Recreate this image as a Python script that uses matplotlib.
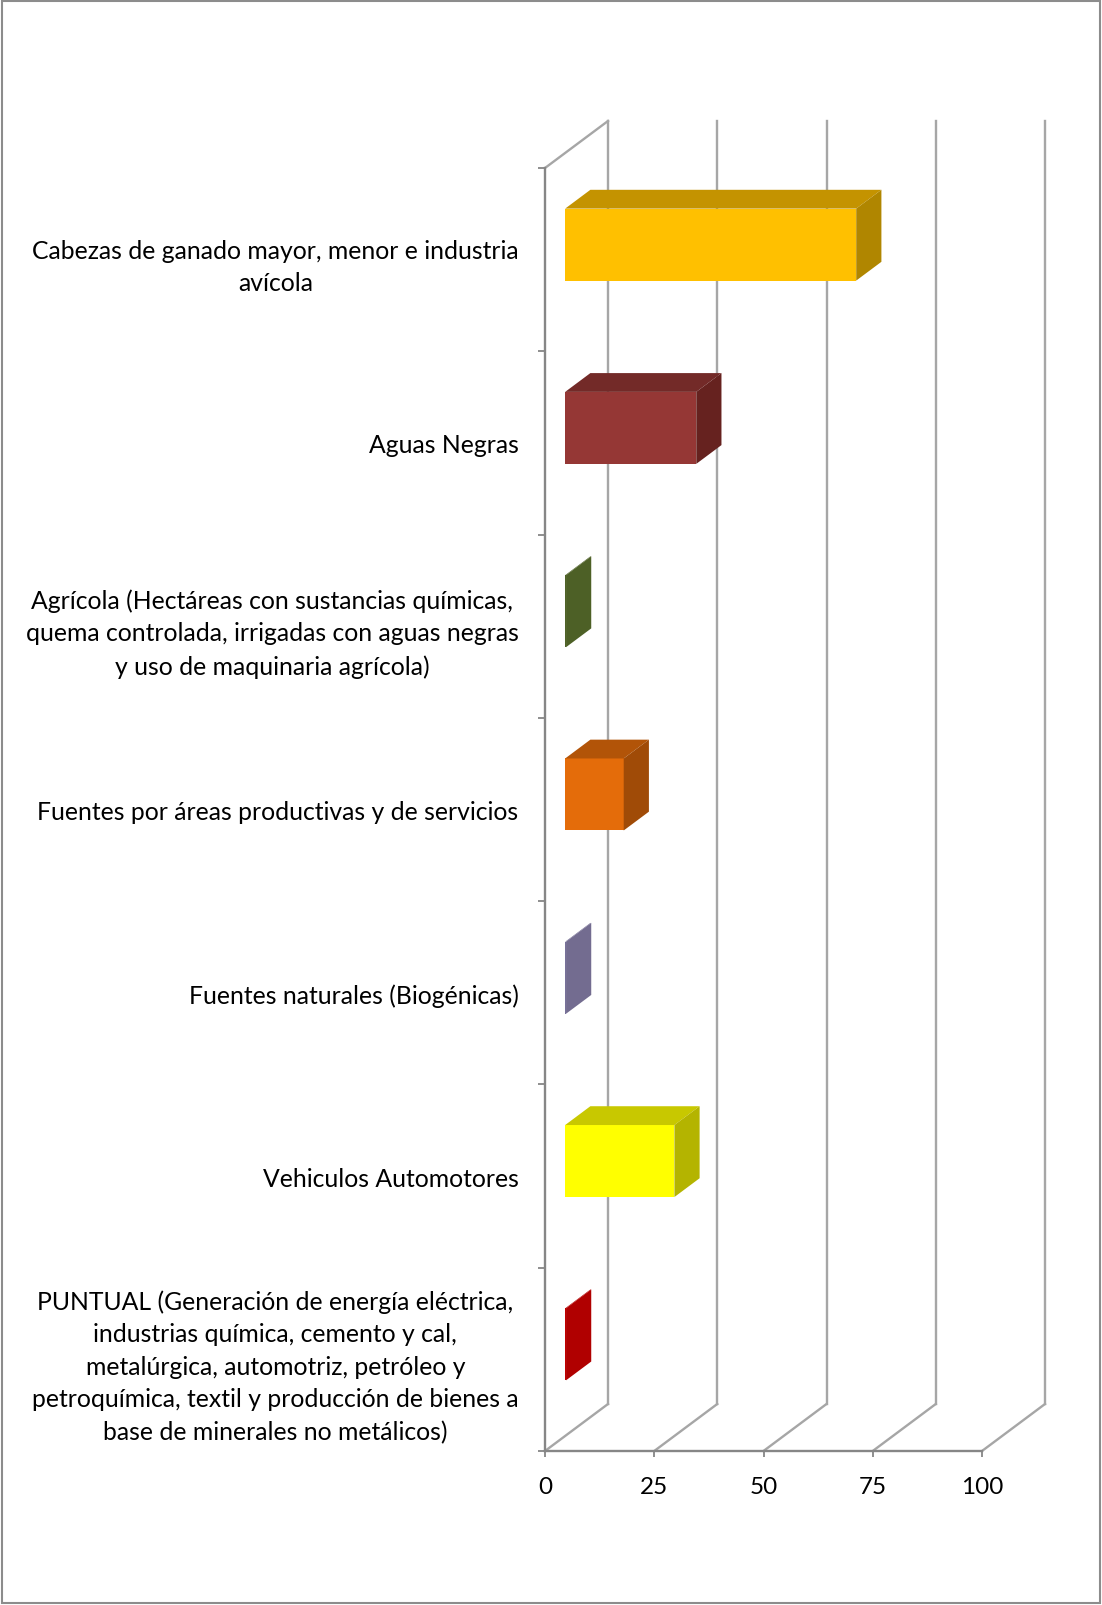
import matplotlib
matplotlib.use("Agg")
import matplotlib.pyplot as plt
from matplotlib.patches import Polygon, Rectangle

# data (top to bottom as in the chart)
categories = [
    "Cabezas de ganado mayor, menor e industria\navícola",
    "Aguas Negras",
    "Agrícola (Hectáreas con sustancias químicas,\nquema controlada, irrigadas con aguas negras\ny uso de maquinaria agrícola)",
    "Fuentes por áreas productivas y de servicios",
    "Fuentes naturales (Biogénicas)",
    "Vehiculos Automotores",
    "PUNTUAL (Generación de energía eléctrica,\nindustrias química, cemento y cal,\nmetalúrgica, automotriz, petróleo y\npetroquímica, textil y producción de bienes a\nbase de minerales no metálicos)",
]
values = [66.6, 30.0, 0.2, 13.4, 0.2, 25.0, 0.2]
x_ticks = [0, 25, 50, 75, 100]

front_colors = ["#FFC000", "#953735", "#4F6228", "#E46C0A", "#77709A", "#FFFF00", "#C00000"]
top_colors = ["#C49300", "#732A28", "#4A5C24", "#B25408", "#716A92", "#C8C800", "#B40000"]
side_colors = ["#B08600", "#66221F", "#4D6026", "#A04B07", "#736C90", "#B4B400", "#B00000"]

W, H = 1102, 1606
fig = plt.figure(figsize=(W / 100, H / 100), dpi=100)
fig.patch.set_facecolor("white")

ax_l, ax_r, ax_t, ax_b = 545, 982, 169, 1452
ax = fig.add_axes([ax_l / W, 1 - ax_b / H, (ax_r - ax_l) / W, (ax_b - ax_t) / H])
n = len(categories)
ax.set_xlim(0, 100)
ax.set_ylim(0, n)
ax.patch.set_visible(False)

# depth of the 3d box, in data units (63 px right, 47 px up)
px_x = (ax_r - ax_l) / 100.0
px_y = (ax_b - ax_t) / n
DX = 63 / px_x
DY = 47 / px_y
d_front, d_back = 0.32, 0.72
bar_h = 72 / px_y

grid_c = "#A6A6A6"
axis_c = "#868686"

# back wall verticals + floor diagonals
for v in x_ticks:
    ax.plot([v + DX, v + DX], [DY, n + DY], color=grid_c, lw=1.7, clip_on=False, zorder=1)
    ax.plot([v, v + DX], [0, DY], color=grid_c, lw=1.7, clip_on=False, zorder=1)
# top of the side wall
ax.plot([0, DX], [n, n + DY], color=grid_c, lw=1.7, clip_on=False, zorder=1)

# bars
for i, (val, fc, tc, sc) in enumerate(zip(values, front_colors, top_colors, side_colors)):
    yc = n - i - 0.5 + d_front * DY
    x0 = d_front * DX
    ddx = (d_back - d_front) * DX
    ddy = (d_back - d_front) * DY
    ax.barh(yc, val, left=x0, height=bar_h, color=fc, lw=0, zorder=3)
    yb, yt = yc - bar_h / 2, yc + bar_h / 2
    x1 = x0 + val
    top = Polygon([(x0, yt), (x1, yt), (x1 + ddx, yt + ddy), (x0 + ddx, yt + ddy)],
                  closed=True, facecolor=tc, lw=0, zorder=3, clip_on=False)
    side = Polygon([(x1, yb), (x1, yt), (x1 + ddx, yt + ddy), (x1 + ddx, yb + ddy)],
                   closed=True, facecolor=sc, lw=0, zorder=3, clip_on=False)
    ax.add_patch(top)
    ax.add_patch(side)

# axes look
for s in ["top", "right"]:
    ax.spines[s].set_visible(False)
for s in ["left", "bottom"]:
    ax.spines[s].set_color(axis_c)
    ax.spines[s].set_linewidth(1.7)

font = "Lato"
ax.set_xticks(x_ticks)
ax.set_xticklabels([str(t) for t in x_ticks], fontsize=17.5, family=font)
ax.tick_params(axis="x", length=4, width=1.3, color=axis_c, pad=14)

ax.set_yticks(range(n + 1))
ax.set_yticklabels([])
ax.tick_params(axis="y", which="major", length=5, width=1.3, color=axis_c, direction="out")
ax.set_yticks([n - i - 0.5 for i in range(n)], minor=True)
ax.set_yticklabels(categories, minor=True, fontsize=17.8, family=font, linespacing=1.5)
ax.tick_params(axis="y", which="minor", length=0, pad=19)
for lbl in ax.get_yticklabels(minor=True):
    lbl.set_multialignment("center")

# outer chart border
fig.patches.append(Rectangle((0.0015, 0.001), 0.997, 0.998, transform=fig.transFigure,
                             fill=False, edgecolor="#8C8C8C", lw=1.5))

fig.savefig("out.png", dpi=100)
